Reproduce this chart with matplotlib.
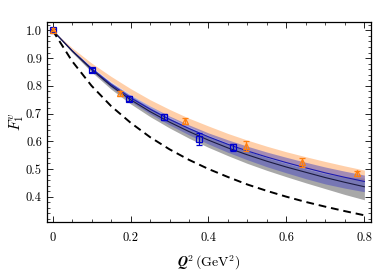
import matplotlib
matplotlib.use("Agg")
import matplotlib.pyplot as plt
from matplotlib.ticker import MultipleLocator

plt.rcParams["font.family"] = "serif"
plt.rcParams["font.serif"] = ["cmr10", "DejaVu Serif"]
plt.rcParams["mathtext.fontset"] = "cm"
plt.rcParams["axes.unicode_minus"] = False
plt.rcParams["axes.formatter.use_mathtext"] = True

# Q^2 grid for the curves (GeV^2)
q2 = [0.0, 0.05, 0.1, 0.15, 0.2, 0.25, 0.3, 0.35, 0.4, 0.45, 0.5,
      0.55, 0.6, 0.65, 0.7, 0.75, 0.8]

# dashed reference curve
dashed = [1.0, 0.889, 0.800, 0.727, 0.667, 0.615, 0.571, 0.533, 0.500,
          0.471, 0.444, 0.421, 0.400, 0.381, 0.364, 0.348, 0.333]

# gray band
gray_lo = [1.0, 0.920, 0.850, 0.788, 0.735, 0.689, 0.648, 0.611, 0.578,
           0.548, 0.520, 0.495, 0.472, 0.450, 0.429, 0.408, 0.389]
gray_hi = [1.0, 0.929, 0.866, 0.810, 0.763, 0.721, 0.683, 0.649, 0.618,
           0.590, 0.565, 0.541, 0.520, 0.501, 0.483, 0.472, 0.467]

# blue band and central lines
blue_lo = [1.0, 0.924, 0.855, 0.795, 0.744, 0.699, 0.659, 0.623, 0.590,
           0.560, 0.533, 0.508, 0.486, 0.465, 0.446, 0.431, 0.418]
blue_hi = [1.0, 0.930, 0.867, 0.813, 0.767, 0.727, 0.691, 0.659, 0.630,
           0.605, 0.582, 0.561, 0.542, 0.524, 0.507, 0.492, 0.478]
blue_line = [1.0, 0.927, 0.862, 0.805, 0.757, 0.716, 0.679, 0.646, 0.616,
             0.589, 0.565, 0.543, 0.523, 0.504, 0.486, 0.470, 0.455]
black_line = [1.0, 0.926, 0.859, 0.800, 0.750, 0.707, 0.669, 0.635, 0.604,
              0.576, 0.551, 0.528, 0.507, 0.488, 0.469, 0.452, 0.436]

# orange band
orange_lo = [1.0, 0.930, 0.868, 0.815, 0.768, 0.726, 0.688, 0.654, 0.622,
             0.594, 0.568, 0.544, 0.522, 0.503, 0.484, 0.468, 0.455]
orange_hi = [1.0, 0.937, 0.882, 0.834, 0.790, 0.750, 0.715, 0.683, 0.655,
             0.628, 0.604, 0.582, 0.562, 0.544, 0.527, 0.511, 0.496]

# lattice data: blue squares
sq_q2 = [0.0, 0.101, 0.197, 0.287, 0.376, 0.462]
sq_f = [1.0, 0.857, 0.754, 0.688, 0.607, 0.578]
sq_err = [0.005, 0.008, 0.010, 0.010, 0.022, 0.012]

# experimental data: orange triangles
tr_q2 = [0.0, 0.174, 0.340, 0.496, 0.641, 0.780]
tr_f = [1.002, 0.773, 0.674, 0.583, 0.524, 0.484]
tr_err = [0.005, 0.010, 0.010, 0.018, 0.017, 0.008]

fig = plt.figure(figsize=(3.74, 2.72), dpi=100)
ax = fig.add_axes([0.125, 0.185, 0.867, 0.734])

ax.fill_between(q2, gray_lo, gray_hi, color="#a8a8a8", lw=0)
ax.fill_between(q2, orange_lo, orange_hi, color="#ffb070", alpha=0.6, lw=0)
ax.fill_between(q2, blue_lo, blue_hi, color="#4848c0", alpha=0.5, lw=0)
ax.plot(q2, blue_line, color="#1a1ab0", lw=0.8)
ax.plot(q2, black_line, color="#1a1a40", lw=0.8)
ax.plot(q2, dashed, color="black", lw=1.4, ls=(0, (4, 2.5)))

ax.errorbar(sq_q2, sq_f, yerr=sq_err, fmt="s", ms=4.5, mfc="none",
            mec="#0000cc", ecolor="#0000cc", mew=0.9, elinewidth=0.9,
            capsize=2)
ax.errorbar(tr_q2, tr_f, yerr=tr_err, fmt="^", ms=4.5, mfc="none",
            mec="#ff7f0e", ecolor="#ff7f0e", mew=0.9, elinewidth=0.9,
            capsize=2)

ax.set_xlim(-0.015, 0.817)
ax.set_ylim(0.31, 1.03)
ax.set_xticks([0, 0.2, 0.4, 0.6, 0.8])
ax.set_xticklabels(["0", "0.2", "0.4", "0.6", "0.8"])
ax.set_yticks([0.4, 0.5, 0.6, 0.7, 0.8, 0.9, 1.0])
ax.set_yticklabels(["0.4", "0.5", "0.6", "0.7", "0.8", "0.9", "1.0"])
ax.xaxis.set_minor_locator(MultipleLocator(0.05))
ax.yaxis.set_minor_locator(MultipleLocator(0.02))
ax.tick_params(which="both", direction="in", top=True, right=True,
               labelsize=9)
ax.tick_params(which="major", length=4.5, width=0.6)
ax.tick_params(which="minor", length=2.5, width=0.5)
ax.tick_params(axis="x", pad=7)
for s in ax.spines.values():
    s.set_linewidth(0.9)

ax.set_xlabel(r"$\boldsymbol{Q}^2\,(\mathrm{GeV}^2)$", fontsize=10,
              labelpad=7)
ax.set_ylabel(r"$F_1^v$", fontsize=11, labelpad=0)

fig.savefig("out.png", dpi=100)
